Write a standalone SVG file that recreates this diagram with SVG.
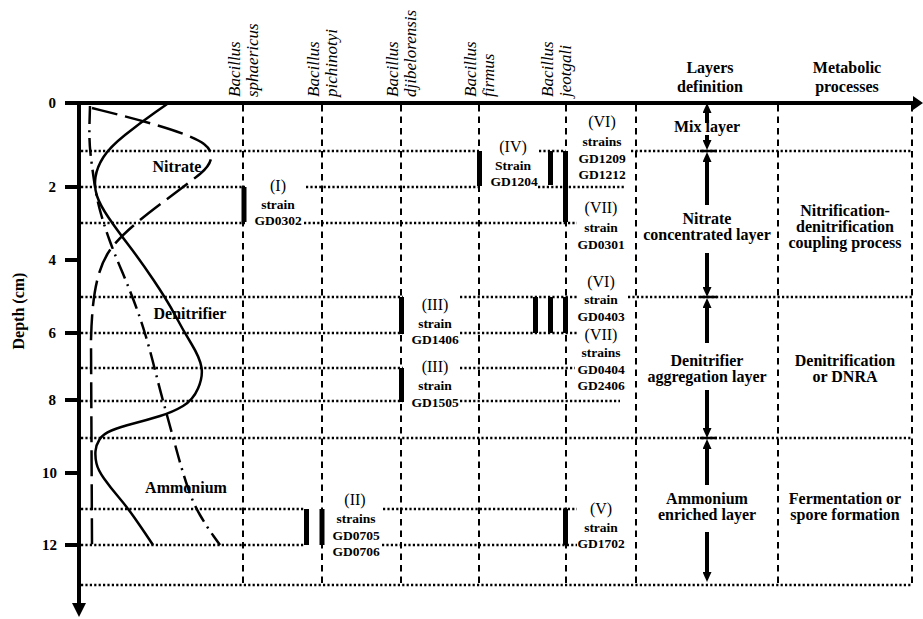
<svg xmlns="http://www.w3.org/2000/svg" width="923" height="619" viewBox="0 0 923 619">
<style>
text{font-family:"Liberation Serif","Times New Roman",serif;fill:#000}
.vd{stroke:#000;stroke-width:2;stroke-dasharray:6.5 5;fill:none}
.hd{stroke:#000;stroke-width:2.5;stroke-dasharray:2.2 2.2;fill:none}
.bar{stroke:#000;stroke-width:5}
.ax{stroke:#000;stroke-width:4;fill:none}
.sp{font-style:italic;font-size:17px}
.hdr{font-weight:bold;font-size:16px;text-anchor:middle}
.num{font-weight:bold;font-size:15px;text-anchor:end}
.rn{font-size:16px;text-anchor:middle}
.st{font-weight:bold;font-size:13.5px;text-anchor:middle}
.cv{stroke:#000;stroke-width:2.5;fill:none}
.sh{stroke:#000;stroke-width:4}
</style>
<defs>
<marker id="ah" viewBox="0 0 10 9" refX="0" refY="4.5" markerWidth="10" markerHeight="9" markerUnits="userSpaceOnUse" orient="auto">
<path d="M0,0 L10,4.5 L0,9 z" fill="#000"/>
</marker>
</defs>

<g id="grid">
<g id="verticals">
<line class="vd" x1="243" y1="105" x2="243" y2="584"/>
<line class="vd" x1="322" y1="105" x2="322" y2="584"/>
<line class="vd" x1="401" y1="105" x2="401" y2="584"/>
<line class="vd" x1="479" y1="105" x2="479" y2="584"/>
<line class="vd" x1="566" y1="105" x2="566" y2="584"/>
<line class="vd" x1="636" y1="105" x2="636" y2="584"/>
<line class="vd" x1="778" y1="105" x2="778" y2="584"/>
<line class="vd" x1="912" y1="105" x2="912" y2="584"/>
</g>
<g id="horizontals">
<path class="hd" d="M81,151H479M539,151H566M631,151H912"/>
<path class="hd" d="M81,187H245M306,187H482M538,187H625"/>
<path class="hd" d="M81,223H245M304,223H577"/>
<path class="hd" d="M81,297H403M460,297H577M628,297H912"/>
<path class="hd" d="M81,333H403M460,333H577"/>
<path class="hd" d="M81,368H403M460,368H575"/>
<path class="hd" d="M81,401H403M460,401H620"/>
<path class="hd" d="M81,438H912"/>
<path class="hd" d="M81,509H304M383,509H577"/>
<path class="hd" d="M81,545H304M382,545H577"/>
<path class="hd" d="M81,585H912"/>
</g>
</g>

<g id="axes">
<line class="ax" x1="65" y1="103" x2="914" y2="103"/>
<polygon points="913,96 923,103 913,110" fill="#000"/>
<line class="ax" x1="79" y1="101" x2="79" y2="604"/>
<polygon points="72,603 79,617 86,603" fill="#000"/>
<path class="ax" d="M65,187H79M65,260H79M65,333H79M65,400H79M65,473H79M65,545H79"/>
<text class="num" x="56" y="108">0</text>
<text class="num" x="56" y="192">2</text>
<text class="num" x="56" y="265">4</text>
<text class="num" x="56" y="338">6</text>
<text class="num" x="56" y="405">8</text>
<text class="num" x="57" y="478">10</text>
<text class="num" x="57" y="550">12</text>
<text transform="translate(24,311) rotate(-90)" font-weight="bold" font-size="16" text-anchor="middle">Depth (cm)</text>
</g>

<g id="curves">
<path id="solid" class="cv" d="M170,102 L155,112.5 Q140,123 125,135 Q110,147 103.5,157 Q97,167 95.5,177 Q94,187 97,196 Q100,205 108.5,217.5 Q117,230 128.5,245 Q140,260 153.5,280 Q167,300 175,315 Q183,330 191.5,344 Q200,358 201.5,367.5 Q203,377 198,388.5 Q193,400 183,406 Q173,412 160,416 Q147,420 133.5,423.5 Q120,427 111.5,430.5 Q103,434 99.5,439.5 Q96,445 95.5,451 Q95,457 96.5,463.5 Q98,470 104,478.5 Q110,487 118.5,497 Q127,507 135,518.5 Q143,530 148,537.5 L153,545"/>
<path id="dashed" class="cv" stroke-dasharray="26 8" d="M92,108 C140,120 190,133 204,144 C216,153 212,164 200,174 C170,198 128,225 110,250 C96,270 92,300 91,340 L92,545"/>
<path id="dashdot" class="cv" stroke-dasharray="18 6 2 6" d="M90,106 L89.5,123 Q89,140 90.5,153.5 Q92,167 94.5,183.5 Q97,200 101,214 Q105,228 110,241.5 Q115,255 121,269 Q127,283 133.5,300 Q140,317 145,333.5 Q150,350 155,370 Q160,390 166.5,413.5 Q173,437 177.5,453.5 Q182,470 187.5,486.5 Q193,503 200,515 Q207,527 213.5,536 L220,545"/>
<text x="177" y="172" font-weight="bold" font-size="16" text-anchor="middle">Nitrate</text>
<text x="190" y="319" font-weight="bold" font-size="16" text-anchor="middle">Denitrifier</text>
<text x="186" y="493" font-weight="bold" font-size="16" text-anchor="middle">Ammonium</text>
</g>

<g id="species">
<text class="sp" transform="translate(240,97) rotate(-90)">Bacillus</text>
<text class="sp" transform="translate(258,97) rotate(-90)">sphaericus</text>
<text class="sp" transform="translate(319,97) rotate(-90)">Bacillus</text>
<text class="sp" transform="translate(337,97) rotate(-90)">pichinotyi</text>
<text class="sp" transform="translate(398,97) rotate(-90)">Bacillus</text>
<text class="sp" transform="translate(416,97) rotate(-90)">djibelorensis</text>
<text class="sp" transform="translate(476,97) rotate(-90)">Bacillus</text>
<text class="sp" transform="translate(494,97) rotate(-90)">firmus</text>
<text class="sp" transform="translate(553,97) rotate(-90)">Bacillus</text>
<text class="sp" transform="translate(571,97) rotate(-90)">jeotgali</text>
<text class="hdr" x="710" y="73">Layers</text>
<text class="hdr" x="710" y="92">definition</text>
<text class="hdr" x="847" y="73">Metabolic</text>
<text class="hdr" x="847" y="92">processes</text>
</g>

<g id="bars">
<line class="bar" x1="244" y1="187" x2="244" y2="222"/>
<line class="bar" x1="479.5" y1="151" x2="479.5" y2="186"/>
<line class="bar" x1="550.5" y1="151" x2="550.5" y2="185"/>
<line class="bar" x1="565.5" y1="151" x2="565.5" y2="222"/>
<line class="bar" x1="401.5" y1="297" x2="401.5" y2="334"/>
<line class="bar" x1="535.5" y1="297" x2="535.5" y2="333"/>
<line class="bar" x1="550.5" y1="297" x2="550.5" y2="333"/>
<line class="bar" x1="565.5" y1="297" x2="565.5" y2="333"/>
<line class="bar" x1="401.5" y1="368" x2="401.5" y2="402"/>
<line class="bar" x1="306.5" y1="509" x2="306.5" y2="545"/>
<line class="bar" x1="322" y1="509" x2="322" y2="545"/>
<line class="bar" x1="565.5" y1="509" x2="565.5" y2="545"/>
</g>

<g id="strain-labels">
<text class="rn" x="278" y="191">(I)</text>
<text class="st" x="278" y="209">strain</text>
<text class="st" x="278" y="225">GD0302</text>

<text class="rn" x="513" y="152">(IV)</text>
<text class="st" x="513" y="170">Strain</text>
<text class="st" x="514" y="186">GD1204</text>

<text class="rn" x="602" y="127">(VI)</text>
<text class="st" x="602" y="146">strains</text>
<text class="st" x="602" y="163">GD1209</text>
<text class="st" x="602" y="179">GD1212</text>

<text class="rn" x="601" y="213">(VII)</text>
<text class="st" x="601" y="232">strain</text>
<text class="st" x="601" y="249">GD0301</text>

<text class="rn" x="601" y="287">(VI)</text>
<text class="st" x="601" y="304">strain</text>
<text class="st" x="601" y="321">GD0403</text>

<text class="rn" x="601" y="340">(VII)</text>
<text class="st" x="601" y="357">strains</text>
<text class="st" x="601" y="374">GD0404</text>
<text class="st" x="601" y="390">GD2406</text>

<text class="rn" x="435" y="310">(III)</text>
<text class="st" x="435" y="328">strain</text>
<text class="st" x="435" y="344">GD1406</text>

<text class="rn" x="435" y="372">(III)</text>
<text class="st" x="435" y="390">strain</text>
<text class="st" x="435" y="407">GD1505</text>

<text class="rn" x="355" y="505">(II)</text>
<text class="st" x="356" y="523">strains</text>
<text class="st" x="356" y="540">GD0705</text>
<text class="st" x="356" y="556">GD0706</text>

<text class="rn" x="601" y="514">(V)</text>
<text class="st" x="601" y="532">strain</text>
<text class="st" x="601" y="548">GD1702</text>
</g>

<g id="layers">
<line class="sh" x1="707" y1="123" x2="707" y2="113" marker-end="url(#ah)"/>
<line class="sh" x1="707" y1="135" x2="707" y2="140" marker-end="url(#ah)"/>
<line x1="700" y1="151" x2="717" y2="151" stroke="#000" stroke-width="2.5"/>
<line class="sh" x1="707" y1="205" x2="707" y2="162" marker-end="url(#ah)"/>
<line class="sh" x1="707" y1="253" x2="707" y2="287" marker-end="url(#ah)"/>
<line x1="700" y1="297" x2="717" y2="297" stroke="#000" stroke-width="2.5"/>
<line class="sh" x1="707" y1="343" x2="707" y2="308" marker-end="url(#ah)"/>
<line class="sh" x1="707" y1="390" x2="707" y2="428" marker-end="url(#ah)"/>
<line x1="700" y1="438" x2="717" y2="438" stroke="#000" stroke-width="2.5"/>
<line class="sh" x1="707" y1="485" x2="707" y2="449" marker-end="url(#ah)"/>
<line class="sh" x1="707" y1="532" x2="707" y2="572" marker-end="url(#ah)"/>
<text class="hdr" x="707" y="132">Mix layer</text>
<text class="hdr" x="707" y="224">Nitrate</text>
<text class="hdr" x="707" y="240">concentrated layer</text>
<text class="hdr" x="707" y="366">Denitrifier</text>
<text class="hdr" x="707" y="382">aggregation layer</text>
<text class="hdr" x="707" y="504">Ammonium</text>
<text class="hdr" x="707" y="520">enriched layer</text>
</g>

<g id="processes">
<text class="hdr" x="845" y="216">Nitrification-</text>
<text class="hdr" x="845" y="232">denitrification</text>
<text class="hdr" x="845" y="248">coupling process</text>
<text class="hdr" x="845" y="366">Denitrification</text>
<text class="hdr" x="845" y="382">or DNRA</text>
<text class="hdr" x="845" y="504">Fermentation or</text>
<text class="hdr" x="845" y="520">spore formation</text>
</g>
</svg>
